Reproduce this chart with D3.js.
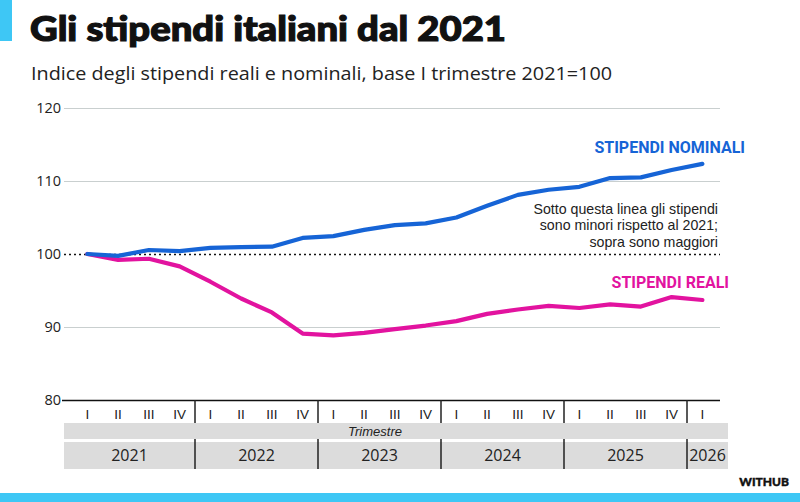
<!DOCTYPE html>
<html>
<head>
<meta charset="utf-8">
<script src="https://cdn.jsdelivr.net/npm/d3@7"></script>
<style>
    body { margin: 0; background: #fff; }
    svg { display: block; font-family: 'Open Sans', sans-serif; }
</style>
</head>
<body>
<svg id="chart" width="800" height="502"></svg>
<script>
'use strict';

var years = ['2021', '2022', '2023', '2024', '2025', '2026'];
var quarterNames = ['I', 'II', 'III', 'IV'];
// 2021 Q1 .. 2026 Q1
var quarters = [];
years.forEach(function(yr) {
    quarterNames.forEach(function(q) {
        quarters.push(yr + '-' + q);
    });
});
quarters = quarters.slice(0, 21);

var nominali = [100, 99.75, 100.55, 100.4,
    100.85, 100.95, 101.0, 102.2,
    102.45, 103.3, 103.95, 104.2,
    105.0, 106.6, 108.1, 108.8,
    109.2, 110.4, 110.5, 111.5,
    112.35];
var reali = [100, 99.2, 99.35, 98.3,
    96.2, 93.9, 92.0, 89.1,
    88.85, 89.2, 89.7, 90.2,
    90.8, 91.8, 92.4, 92.9,
    92.6, 93.1, 92.8, 94.1,
    93.7];
var yTicks = [80, 90, 100, 110, 120];

var BLUE = '#1664d6';
var PINK = '#e2139f';
var CYAN = '#3ec7f5';

var svg = d3.select('#chart');

var x = d3.scaleBand().domain(quarters).range([72, 717.75]);
var y = d3.scaleLinear().domain([80, 120]).range([400, 108]);
var bw = x.bandwidth();

/*
 * header
 */
svg.append('rect').attr('x', 0).attr('y', 0).attr('width', 12).attr('height', 41).style('fill', CYAN);
svg.append('rect').attr('x', 0).attr('y', 493).attr('width', 800).attr('height', 9).style('fill', CYAN);

svg.append('text')
    .attr('x', 30).attr('y', 41)
    .attr('textLength', 476)
    .attr('lengthAdjust', 'spacingAndGlyphs')
    .style('font-family', 'Lato')
    .style('font-weight', 900)
    .style('font-size', '35px')
    .style('fill', '#111')
    .style('stroke', '#111')
    .style('stroke-width', 1.2)
    .text('Gli stipendi italiani dal 2021');

svg.append('text')
    .attr('x', 31).attr('y', 80)
    .attr('textLength', 581)
    .attr('lengthAdjust', 'spacingAndGlyphs')
    .style('font-size', '19px')
    .style('fill', '#222')
    .text('Indice degli stipendi reali e nominali, base I trimestre 2021=100');

/*
 * y axis + grid
 */
var yAxis = svg.append('g')
    .attr('transform', 'translate(64,0)')
    .call(d3.axisLeft(y).tickValues(yTicks).tickSize(-656).tickPadding(3));

yAxis.select('.domain').remove();
yAxis.selectAll('text')
    .style('font-family', 'Open Sans')
    .style('font-size', '14.5px')
    .style('fill', '#222');
yAxis.selectAll('line')
    .style('stroke', '#c9cfcf')
    .style('stroke-width', 1);
yAxis.selectAll('.tick')
    .filter(function(d) { return d === 100; })
    .select('line')
    .style('stroke', '#111')
    .style('stroke-width', 1.5)
    .style('stroke-dasharray', '2,3');
yAxis.selectAll('.tick')
    .filter(function(d) { return d === 80; })
    .select('line')
    .attr('x1', -2)
    .style('stroke', '#111')
    .style('stroke-width', 1.5);

/*
 * x axis: quarters, bands, years
 */
svg.append('rect').attr('x', 64).attr('y', 423).attr('width', 664).attr('height', 16).style('fill', '#dcdcdc');
svg.append('rect').attr('x', 64).attr('y', 442).attr('width', 664).attr('height', 27).style('fill', '#dcdcdc');

svg.append('g').selectAll('text')
    .data(quarters)
    .enter()
    .append('text')
    .attr('x', function(d) { return x(d) + bw / 2; })
    .attr('y', 419)
    .style('text-anchor', 'middle')
    .style('font-family', 'Liberation Sans')
    .style('font-size', '13.5px')
    .style('fill', '#222')
    .text(function(d) { return d.split('-')[1]; });

svg.append('text')
    .attr('x', 375).attr('y', 436)
    .style('text-anchor', 'middle')
    .style('font-family', 'Liberation Sans')
    .style('font-style', 'italic')
    .style('font-size', '13px')
    .style('fill', '#222')
    .text('Trimestre');

var yearSpans = years.map(function(yr, i) {
    var start = i === 0 ? 64 : x(yr + '-I');
    var end = i < years.length - 1 ? x(years[i + 1] + '-I') : 728;
    return { year: yr, start: start, end: end };
});

var dividers = yearSpans.slice(1);
svg.append('g').selectAll('line.q')
    .data(dividers)
    .enter()
    .append('line')
    .attr('x1', function(d) { return d.start; })
    .attr('x2', function(d) { return d.start; })
    .attr('y1', 400).attr('y2', 423)
    .style('stroke', '#222').style('stroke-width', 1.5);
svg.append('g').selectAll('line.y')
    .data(dividers)
    .enter()
    .append('line')
    .attr('x1', function(d) { return d.start; })
    .attr('x2', function(d) { return d.start; })
    .attr('y1', 439).attr('y2', 469)
    .style('stroke', '#222').style('stroke-width', 1.5);

svg.append('g').selectAll('text')
    .data(yearSpans)
    .enter()
    .append('text')
    .attr('x', function(d) { return (d.start + d.end) / 2; })
    .attr('y', 461)
    .style('text-anchor', 'middle')
    .style('font-size', '16px')
    .style('fill', '#222')
    .text(function(d) { return d.year; });

/*
 * lines
 */
var line = d3.line()
    .x(function(d, i) { return x(quarters[i]) + bw / 2; })
    .y(function(d) { return y(d); });

svg.append('path')
    .datum(reali)
    .attr('d', line)
    .style('fill', 'none')
    .style('stroke', PINK)
    .style('stroke-width', 4.2)
    .style('stroke-linejoin', 'round')
    .style('stroke-linecap', 'round');

svg.append('path')
    .datum(nominali)
    .attr('d', line)
    .style('fill', 'none')
    .style('stroke', BLUE)
    .style('stroke-width', 4.2)
    .style('stroke-linejoin', 'round')
    .style('stroke-linecap', 'round');

/*
 * labels
 */
svg.append('text')
    .attr('x', 745).attr('y', 153)
    .style('text-anchor', 'end')
    .style('font-family', 'Roboto')
    .style('font-weight', 700)
    .style('font-size', '16px')
    .style('fill', BLUE)
    .text('STIPENDI NOMINALI');

svg.append('text')
    .attr('x', 729).attr('y', 288)
    .style('text-anchor', 'end')
    .style('font-family', 'Roboto')
    .style('font-weight', 700)
    .style('font-size', '16px')
    .style('fill', PINK)
    .text('STIPENDI REALI');

var note = ['Sotto questa linea gli stipendi', 'sono minori rispetto al 2021;', 'sopra sono maggiori'];
svg.append('g').selectAll('text')
    .data(note)
    .enter()
    .append('text')
    .attr('x', 718)
    .attr('y', function(d, i) { return 214 + i * 16.3; })
    .style('text-anchor', 'end')
    .style('font-family', 'Liberation Sans')
    .style('font-size', '14.2px')
    .style('fill', '#222')
    .text(function(d) { return d; });

svg.append('text')
    .attr('x', 789).attr('y', 486)
    .style('text-anchor', 'end')
    .style('font-family', 'Lato')
    .style('font-weight', 900)
    .style('font-size', '12px')
    .style('fill', '#111')
    .style('stroke', '#111')
    .style('stroke-width', 0.4)
    .text('WITHUB');
</script>
</body>
</html>
